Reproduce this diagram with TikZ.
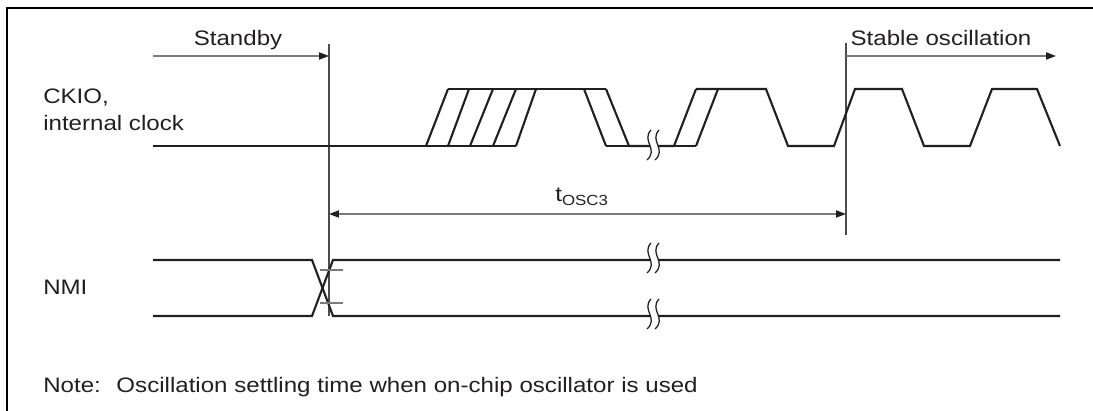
\documentclass[tikz,border=0pt]{standalone}
\usepackage{fontspec}
\setmainfont[FakeStretch=1.15]{Liberation Sans}
\usepackage{tikz}
\usetikzlibrary{arrows.meta}

\definecolor{inkblack}{HTML}{231F20}
\definecolor{guidegray}{gray}{0.48}

% break symbol on a signal line: two wavy strokes with a white gap
\newcommand{\breakmark}[2]{%
  \fill[white] (#1-1,#2-15) .. controls (#1-11,#2-4) and (#1+7,#2+4) .. (#1-5,#2+15)
    -- (#1+3,#2+15) .. controls (#1+15,#2+4) and (#1-3,#2-4) .. (#1+7,#2-15) -- cycle;
  \draw[line width=0.9pt, inkblack] (#1-1,#2-15) .. controls (#1-11,#2-4) and (#1+7,#2+4) .. (#1-5,#2+15);
  \draw[line width=0.9pt, inkblack] (#1+7,#2-15) .. controls (#1-3,#2-4) and (#1+15,#2+4) .. (#1+3,#2+15);
}

\begin{document}
\begin{tikzpicture}[x=0.025cm, y=-0.025cm,
    sig/.style={line width=1.5pt, inkblack, line join=miter},
    guide/.style={line width=1.1pt, guidegray},
    vline/.style={line width=0.75pt, black!70},
    arr/.style={-{Triangle[length=7pt, width=5pt, color=inkblack]}},
    lbl/.style={inner sep=0pt, text=inkblack, font=\fontsize{14.9}{17}\selectfont}]
    \useasboundingbox (0,0) rectangle (1093,411);

    % Frame (top and left edges)
    \draw[line width=1.6pt, black] (7,420) -- (7,8) -- (1100,8);

    % Reference instants
    \coordinate (t0top) at (329,44);
    \coordinate (t0bot) at (329,316);
    \coordinate (t1top) at (846,43);
    \coordinate (t1bot) at (846,235);
    \draw[vline] (t0top) -- (t0bot);
    \draw[vline] (t1top) -- (t1bot);

    % Standby / stable oscillation arrows
    \coordinate (sbstart) at (153,56);
    \coordinate (sbend) at (329,56);
    \coordinate (ststart) at (846,56);
    \coordinate (stend) at (1056,56);
    \draw[guide, arr] (sbstart) -- (sbend);
    \draw[guide, arr] (ststart) -- (stend);
    \node[lbl, anchor=base] (standby) at (238,46) {Standby};
    \node[lbl, anchor=base] (stable) at (941,46) {Stable oscillation};

    % Oscillation settling time
    \coordinate (oscl) at (329,214);
    \coordinate (oscr) at (846,214);
    \draw[guide, {Triangle[length=7pt, width=5pt, color=inkblack]}-{Triangle[length=7pt, width=5pt, color=inkblack]}] (oscl) -- (oscr);
    \node[lbl, anchor=base] (tosc) at (582,202) {t\textsubscript{OSC3}};

    % Signal names
    \node[lbl, anchor=base west] (ckio) at (43,104) {CKIO,};
    \node[lbl, anchor=base west] (intclk) at (43,131) {internal clock};
    \node[lbl, anchor=base west] (nmi) at (43,295) {NMI};

    % CKIO waveform (unstable start-up)
    \draw[sig] (153,146) -- (516,146);
    \draw[sig] (448,89) -- (606,89);
    \foreach \xa/\xb in {426/448, 448/469, 470/493, 493/516, 516/536}
        \draw[sig] (\xa,146) -- (\xb,89);
    \draw[sig] (584,89) -- (606,146);
    \draw[sig] (606,89) -- (629,146) -- (674,146);
    \draw[sig] (606,146) -- (629,146);
    \breakmark{652}{145}

    % CKIO waveform (after break)
    \draw[sig] (674,146) -- (696,146);
    \draw[sig] (674,146) -- (696,89);
    \draw[sig] (696,146) -- (718,89);
    \draw[sig] (696,89) -- (766,89) -- (788,146) -- (834,146) -- (855,89)
        -- (902,89) -- (924,146) -- (970,146) -- (992,89) -- (1037,89) -- (1060,146);

    % NMI
    \draw[sig] (153,260) -- (312,260) -- (333,316) -- (1060,316);
    \draw[sig] (153,316) -- (312,316) -- (333,260) -- (1060,260);
    \draw[guide, line width=0.8pt] (320,270) -- (343,270);
    \draw[guide, line width=0.8pt] (320,303) -- (343,303);
    \breakmark{652}{258}
    \breakmark{652}{314}

    % Note
    \node[lbl, anchor=base west] (note) at (43,393) {Note:~ Oscillation settling time when on-chip oscillator is used};
\end{tikzpicture}
\end{document}
